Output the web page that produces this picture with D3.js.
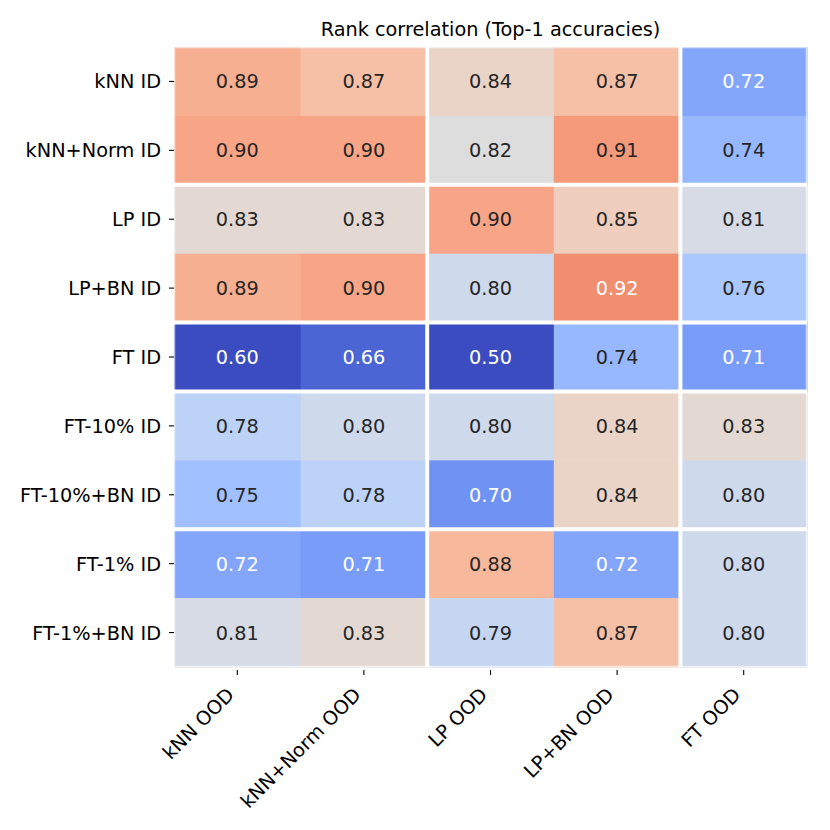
<!DOCTYPE html>
<html><head><meta charset="utf-8">
<script src="https://cdn.jsdelivr.net/npm/d3@7"></script>
<style>body{margin:0;background:#fff}svg text{font-family:"DejaVu Sans",sans-serif}</style>
</head><body><svg id="c" width="830" height="830"></svg>
<script>
const rowLabels = ["kNN ID","kNN+Norm ID","LP ID","LP+BN ID","FT ID","FT-10% ID","FT-10%+BN ID","FT-1% ID","FT-1%+BN ID"];
const colLabels = ["kNN OOD","kNN+Norm OOD","LP OOD","LP+BN OOD","FT OOD"];
const values = [
 [0.89,0.87,0.84,0.87,0.72],
 [0.90,0.90,0.82,0.91,0.74],
 [0.83,0.83,0.90,0.85,0.81],
 [0.89,0.90,0.80,0.92,0.76],
 [0.60,0.66,0.50,0.74,0.71],
 [0.78,0.80,0.80,0.84,0.83],
 [0.75,0.78,0.70,0.84,0.80],
 [0.72,0.71,0.88,0.72,0.80],
 [0.81,0.83,0.79,0.87,0.80]
];
const colBreaks = [2,4];
const rowBreaks = [2,4,5,7];
const title = "Rank correlation (Top-1 accuracies)";
const colorDomain = [0.64, 1.0];
const coolwarmStops = ["#3b4cc0","#445acc","#4d68d7","#5775e1","#6282ea","#6c8ff1","#779af7","#82a5fb","#8db0fe","#98b9ff","#a3c2ff","#aec9fd","#b8d0f9","#c2d5f4","#ccd9ee","#d5dbe6","#dddddd","#e5d8d1","#ecd3c5","#f1ccb9","#f5c4ad","#f7bba0","#f7b194","#f7a687","#f49a7b","#f18d6f","#ec7f63","#e57058","#de604d","#d55042","#cb3e38","#c0282f","#b40426"];

const svg = d3.select("#c");
const L=174, R=807, T=47, B=667;
const x = d3.scaleBand().domain(d3.range(colLabels.length)).range([L,R]);
const y = d3.scaleBand().domain(d3.range(rowLabels.length)).range([T,B]);
const color = d3.scaleSequential(d3.piecewise(d3.interpolateRgb, coolwarmStops)).domain(colorDomain).clamp(true);
const fs = 19.3;

function lum(c){
  const k = d3.rgb(c);
  const f = v=>{v/=255;return v<=0.03928?v/12.92:Math.pow((v+0.055)/1.055,2.4);};
  return 0.2126*f(k.r)+0.7152*f(k.g)+0.0722*f(k.b);
}

const cells = [];
values.forEach((row,i)=>row.forEach((v,j)=>cells.push({i,j,v})));
svg.append("g").selectAll("rect").data(cells).join("rect")
  .attr("x",d=>x(d.j)).attr("y",d=>y(d.i))
  .attr("width",x.bandwidth()+0.5).attr("height",y.bandwidth()+0.5)
  .attr("fill",d=>color(d.v));
svg.append("g").selectAll("text").data(cells).join("text")
  .attr("x",d=>x(d.j)+x.bandwidth()/2).attr("y",d=>y(d.i)+y.bandwidth()/2)
  .attr("text-anchor","middle").attr("dy","0.36em")
  .attr("font-size",fs)
  .attr("fill",d=>lum(color(d.v))>0.408?"#262626":"#ffffff")
  .text(d=>d3.format(".2f")(d.v));

// outer faint edge
svg.append("rect").attr("x",L+0.5).attr("y",T+0.5).attr("width",R-L-1).attr("height",B-T-1)
  .attr("fill","none").attr("stroke","#fff").attr("stroke-opacity",0.6).attr("stroke-width",1.5);
// separators
const sep = svg.append("g").attr("stroke","#fff").attr("stroke-width",4);
colBreaks.forEach(b=>sep.append("line").attr("x1",x(b)).attr("x2",x(b)).attr("y1",T).attr("y2",B));
rowBreaks.forEach(b=>sep.append("line").attr("y1",y(b)).attr("y2",y(b)).attr("x1",L).attr("x2",R));

// y axis
const gy = svg.append("g");
rowLabels.forEach((lab,i)=>{
  const cy = y(i)+y.bandwidth()/2;
  gy.append("line").attr("x1",L-5).attr("x2",L).attr("y1",cy).attr("y2",cy).attr("stroke","#000").attr("stroke-width",1.1);
  gy.append("text").attr("x",L-13).attr("y",cy).attr("dy","0.36em").attr("text-anchor","end").attr("font-size",fs).attr("fill","#000").text(lab);
});
// x axis
const gx = svg.append("g");
colLabels.forEach((lab,j)=>{
  const cx = x(j)+x.bandwidth()/2;
  gx.append("line").attr("x1",cx).attr("x2",cx).attr("y1",B+3).attr("y2",B+8).attr("stroke","#000").attr("stroke-width",1.1);
  gx.append("text").attr("transform",`translate(${cx-2},${B+29}) rotate(-45)`)
    .attr("text-anchor","end").attr("font-size",fs).attr("fill","#000").text(lab);
});
svg.append("text").attr("x",(L+R)/2).attr("y",36).attr("text-anchor","middle").attr("font-size",fs).attr("fill","#000").text(title);
</script></body></html>
